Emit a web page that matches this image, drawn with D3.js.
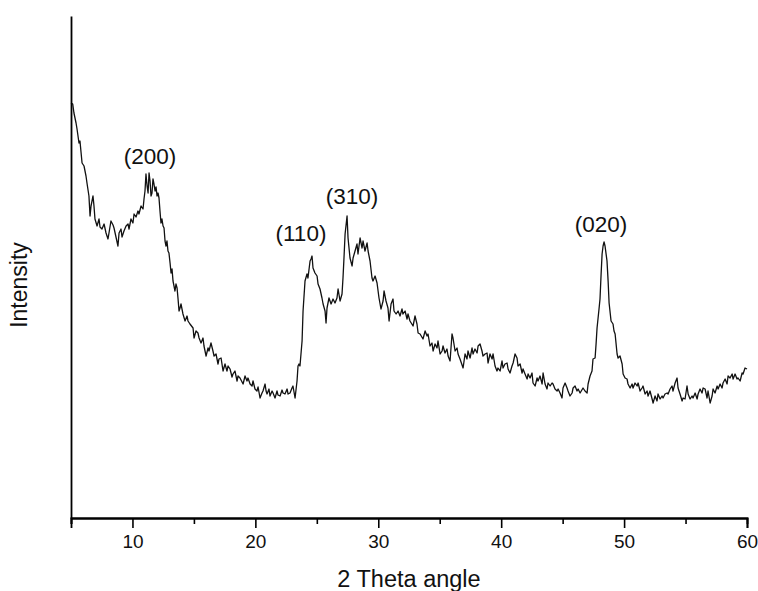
<!DOCTYPE html>
<html><head><meta charset="utf-8">
<script src="https://cdn.jsdelivr.net/npm/d3@7"></script>
<style>body{margin:0;background:#fff}svg{display:block}</style>
</head><body><svg id="c" width="758" height="591"></svg>
<script>
const twoTheta = [5.00,5.14,5.24,5.41,5.49,5.65,5.73,5.90,6.06,6.22,6.30,6.46,6.55,6.63,6.79,6.87,6.95,7.12,7.28,7.36,7.52,7.69,7.85,8.01,8.17,8.25,8.42,8.50,8.66,8.82,8.91,9.07,9.15,9.31,9.48,9.64,9.72,9.88,10.04,10.13,10.29,10.45,10.53,10.70,10.86,10.94,11.02,11.10,11.19,11.27,11.35,11.43,11.51,11.59,11.67,11.75,11.84,11.92,12.00,12.08,12.16,12.24,12.32,12.40,12.49,12.57,12.65,12.73,12.81,12.89,12.97,13.06,13.14,13.22,13.30,13.38,13.46,13.54,13.63,13.71,13.79,
13.87,13.95,14.11,14.28,14.44,14.52,14.68,14.93,15.01,15.17,15.33,15.42,15.58,15.74,15.82,15.99,16.15,16.23,16.39,16.55,16.64,16.80,16.96,17.04,17.21,17.37,17.53,17.69,17.78,17.94,18.10,18.18,18.34,18.51,18.59,18.75,19.00,19.16,19.32,19.40,19.57,19.73,19.81,19.97,20.13,20.22,20.38,20.54,20.62,20.79,20.87,20.95,21.11,21.19,21.36,21.44,21.60,21.76,21.84,22.01,22.17,22.25,22.41,22.58,22.66,22.82,22.98,23.06,23.23,23.39,23.47,23.55,23.63,23.80,23.88,24.04,24.20,24.28,24.45,24.53,24.61,24.69,24.85,25.02,25.10,25.26,25.42,25.51,25.67,25.75,25.83,25.99,26.16,26.32,26.48,26.64,26.73,26.89,27.05,27.13,27.21,27.30,27.46,27.54,27.70,27.87,27.95,28.11,28.27,28.35,28.52,28.68,28.76,28.92,29.09,29.17,29.33,29.49,29.57,29.74,29.90,30.06,30.22,30.39,30.47,30.63,30.79,30.88,31.04,31.20,31.28,31.45,31.61,31.77,31.93,32.01,32.18,32.34,32.42,32.58,32.83,32.99,33.15,33.24,33.40,
33.64,33.81,33.97,34.05,34.21,34.37,34.46,34.62,34.78,34.86,35.03,35.19,35.27,35.43,35.59,35.68,35.84,36.00,36.08,36.25,36.41,36.49,36.65,36.90,37.06,37.22,37.30,37.47,37.63,37.71,37.87,38.04,38.12,38.28,38.44,38.52,38.69,38.85,38.93,39.09,39.26,39.34,39.50,39.66,39.74,39.91,40.07,40.15,40.31,40.48,40.56,40.72,40.88,40.97,41.13,41.29,41.37,41.54,41.70,41.78,41.94,42.11,42.19,42.35,42.51,42.59,42.76,42.92,43.00,43.16,43.33,43.41,43.57,43.73,43.81,43.98,44.14,44.22,44.38,44.55,44.63,44.79,44.95,45.03,45.20,45.36,45.44,45.60,45.77,45.85,46.01,46.17,46.26,46.42,46.66,46.82,46.99,47.07,47.23,47.39,47.47,47.64,47.72,47.80,47.96,48.04,48.13,48.21,48.29,48.37,48.45,48.61,48.70,48.78,48.94,49.10,49.18,49.27,49.43,49.51,49.67,49.84,49.92,50.08,50.24,50.32,50.49,50.65,50.73,50.89,51.06,51.14,51.30,51.46,51.54,51.71,51.87,51.95,52.11,52.28,52.36,52.52,52.68,52.76,52.93,53.09,53.17,53.33,53.50,53.58,53.74,53.90,53.98,54.15,54.31,54.39,54.55,54.72,54.80,54.96,55.12,55.21,55.37,55.53,55.61,55.78,55.94,56.02,56.18,56.34,56.43,56.59,56.75,56.83,57.00,57.16,57.24,57.40,57.57,57.65,57.81,57.97,58.05,58.22,58.38,58.46,58.62,58.79,58.87,59.03,59.19,59.27,59.44,59.60,59.68,59.84,60.00];
const intensity = [415,414,405,395,389,375,377,355,352,342,335,322,302,312,322,312,299,292,299,291,289,294,285,279,291,297,293,290,281,272,285,289,281,287,292,294,289,299,295,304,301,307,304,312,309,319,327,344,332,325,345,337,322,325,339,334,327,331,322,325,320,307,295,299,292,290,277,272,277,267,265,255,245,249,237,232,227,234,230,219,207,
210,214,204,197,202,197,194,190,180,187,185,180,175,180,172,162,170,167,175,167,162,164,154,159,160,147,154,147,152,149,141,144,147,137,142,140,134,142,137,140,134,132,137,129,127,131,120,125,127,134,127,124,129,122,127,125,120,127,123,122,128,125,124,129,124,125,130,132,120,137,152,154,152,177,207,237,244,240,257,259,262,250,245,242,234,229,220,214,207,195,210,220,214,219,215,220,229,217,224,240,260,284,302,280,260,252,260,267,274,264,280,270,277,267,275,267,257,240,237,242,235,220,209,217,227,217,210,197,214,219,207,204,207,202,209,204,207,199,204,197,192,202,194,185,184,
179,187,182,184,172,175,167,174,170,177,164,167,172,165,169,162,157,184,180,167,170,164,159,150,164,159,167,160,170,164,169,165,172,174,167,162,164,165,155,164,159,164,152,147,150,147,157,150,154,155,149,145,152,155,164,160,152,154,145,149,144,139,144,140,145,135,132,140,137,142,134,145,134,129,135,132,135,134,129,127,129,125,120,130,135,130,127,122,125,130,132,127,129,125,130,127,125,134,142,147,159,160,174,190,209,219,244,264,272,276,272,257,237,215,197,194,187,184,164,160,162,154,144,140,139,134,130,134,130,135,132,135,127,130,132,124,127,122,127,119,115,122,117,124,119,122,120,124,125,124,129,132,127,135,140,130,124,117,120,119,132,124,119,122,120,125,119,124,129,125,130,129,120,127,115,122,129,125,132,129,134,130,135,139,134,142,140,144,139,144,139,140,137,145,144,150,149];
const xMajorTicks = [10,20,30,40,50,60];
const xMinorTicks = [5,15,25,35,45,55];
const peakLabels = ["(200)","(110)","(310)","(020)"];
const peakX = [11.43,23.71,27.87,48.13];
const peakY = [354,277,314,286];
const xTitle = "2 Theta angle";
const yTitle = "Intensity";

const svg = d3.select("#c");
const L = 71, R = 747, T = 16, B = 518;
const x = d3.scaleLinear().domain([5,60]).range([L,R]);
const y = d3.scaleLinear().domain([0,502]).range([B,T]);
const font = "'Liberation Sans', Arial, sans-serif";

const data = twoTheta.map((d,i)=>({x:d,y:intensity[i]}));
svg.append("path").datum(data)
  .attr("fill","none").attr("stroke","#111").attr("stroke-width",1.3)
  .attr("stroke-linejoin","round")
  .attr("d", d3.line().x(d=>x(d.x)).y(d=>y(d.y)));

// x axis
const gMinor = svg.append("g").attr("transform",`translate(0,${B})`)
  .call(d3.axisBottom(x).tickValues(xMinorTicks).tickSize(6).tickFormat(""));
const gMajor = svg.append("g").attr("transform",`translate(0,${B})`)
  .call(d3.axisBottom(x).tickValues(xMajorTicks).tickSize(10).tickPadding(7).tickFormat(d3.format("d")));
[gMinor,gMajor].forEach(g=>{
  g.select(".domain").attr("stroke","#000").attr("stroke-width",1.8);
  g.selectAll(".tick line").attr("stroke","#000").attr("stroke-width",1.6);
  g.selectAll(".tick text").attr("fill","#111").style("font-family",font).style("font-size","19px");
});
// y axis (no ticks)
svg.append("g").attr("transform",`translate(${L},0)`)
  .call(d3.axisLeft(y).tickValues([]).tickSize(0))
  .select(".domain").attr("stroke","#000").attr("stroke-width",1.8);

// titles
svg.append("text").attr("x",(L+R)/2).attr("y",587).attr("text-anchor","middle")
  .style("font-family",font).style("font-size","23.5px").attr("fill","#111").text(xTitle);
svg.append("text").attr("transform","translate(27,285) rotate(-90)").attr("text-anchor","middle")
  .style("font-family",font).style("font-size","23px").attr("fill","#111").text(yTitle);

// peak labels
svg.selectAll("text.peak").data(peakLabels).join("text").attr("class","peak")
  .attr("x",(d,i)=>x(peakX[i])).attr("y",(d,i)=>y(peakY[i]))
  .attr("text-anchor","middle").style("font-family",font).style("font-size","22.5px")
  .attr("fill","#111").text(d=>d);
</script></body></html>
